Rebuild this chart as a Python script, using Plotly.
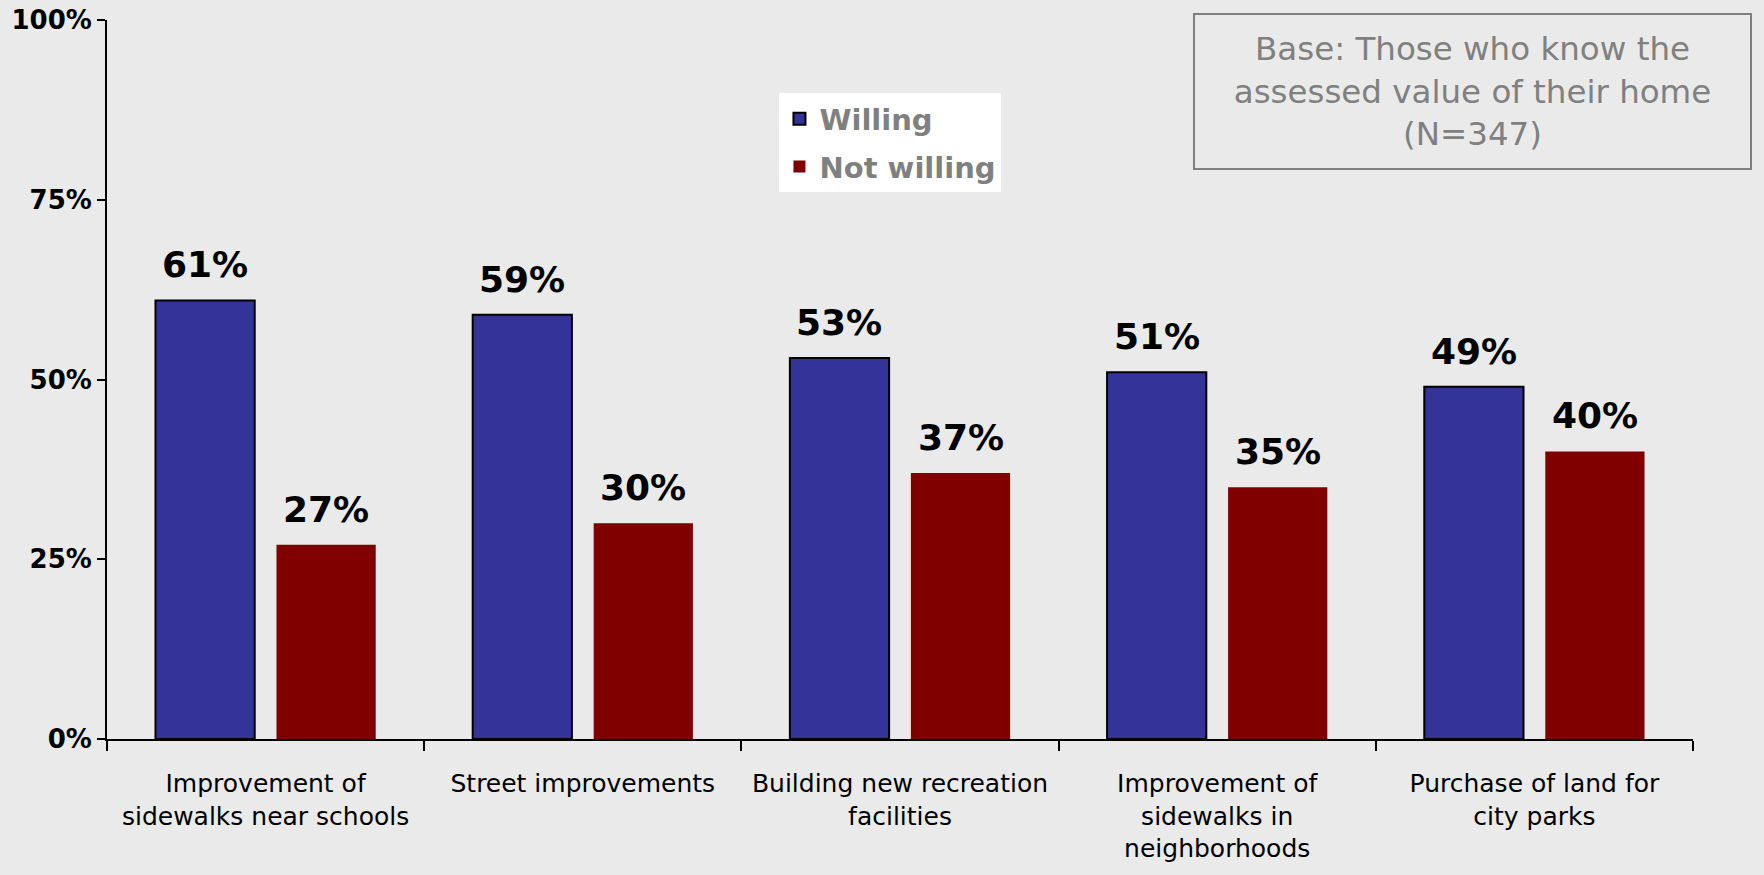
import plotly.graph_objects as go

# Survey categories and response shares (percent)
categories = [
    "Improvement of<br>sidewalks near schools",
    "Street improvements",
    "Building new recreation<br>facilities",
    "Improvement of<br>sidewalks in<br>neighborhoods",
    "Purchase of land for<br>city parks",
]
willing = [61, 59, 53, 51, 49]
not_willing = [27, 30, 37, 35, 40]
y_ticks = [0, 25, 50, 75, 100]
y_tick_labels = ["0%", "25%", "50%", "75%", "100%"]

W, H = 1764, 875
margin = dict(l=107, r=71, t=20, b=136)
bargap = 0.237
font_family = "DejaVu Sans"

fig = go.Figure()
fig.add_trace(go.Bar(
    x=categories, y=willing, name="Willing",
    marker=dict(color="#333399", line=dict(color="#000000", width=2)),
    legendgroup="a",
))
fig.add_trace(go.Bar(
    x=categories, y=not_willing, name="Not willing",
    marker=dict(color="#800000", line=dict(width=0)),
    legendgroup="b",
))

# Value labels above each bar
plot_w = W - margin["l"] - margin["r"]
slot = plot_w / len(categories) * (1 - bargap) / 2
for series, sign in ((willing, -1), (not_willing, 1)):
    for cat, v in zip(categories, series):
        fig.add_annotation(
            x=cat, y=v, xref="x", yref="y",
            text=f"{v}%", showarrow=False,
            xshift=sign * slot / 2, yshift=13,
            yanchor="bottom",
            font=dict(family=font_family, size=36, color="#000000", weight="bold"),
        )

# Base note box
fig.add_annotation(
    xref="paper", yref="paper", x=0.861, y=0.9005,
    xanchor="center", yanchor="middle",
    text="Base: Those who know the<br>assessed value of their home<br>(N=347)",
    showarrow=False, width=555, height=153,
    bordercolor="#808080", borderwidth=2, borderpad=0,
    font=dict(family=font_family, size=32.5, color="#808080"),
)

fig.update_layout(
    width=W, height=H, autosize=False,
    margin=margin,
    paper_bgcolor="#EAEAEA", plot_bgcolor="#EAEAEA",
    barmode="group", bargap=bargap, bargroupgap=0.18,
    font=dict(family=font_family, color="#000000"),
    showlegend=True,
    legend=dict(
        x=0.424, y=0.898, xanchor="left", yanchor="top",
        bgcolor="#FFFFFF", borderwidth=0,
        font=dict(family=font_family, size=29, color="#808080", weight="bold"),
        traceorder="grouped", tracegroupgap=7,
    ),
    xaxis=dict(
        showline=True, linecolor="#000000", linewidth=2,
        ticks="outside", tickson="boundaries", ticklen=10, tickwidth=1.5, tickcolor="#000000",
        tickfont=dict(family=font_family, size=25, color="#000000"),
        tickangle=0, automargin=False,
        ticklabelstandoff=21,
        showgrid=False, zeroline=False,
    ),
    yaxis=dict(
        range=[0, 100], tickvals=y_ticks, ticktext=y_tick_labels,
        showline=True, linecolor="#000000", linewidth=2,
        ticks="outside", ticklen=8, tickwidth=1.5, tickcolor="#000000",
        tickfont=dict(family=font_family, size=26, color="#000000", weight="bold"),
        automargin=False,
        showgrid=False, zeroline=False,
    ),
)

fig.write_html("out.html")
